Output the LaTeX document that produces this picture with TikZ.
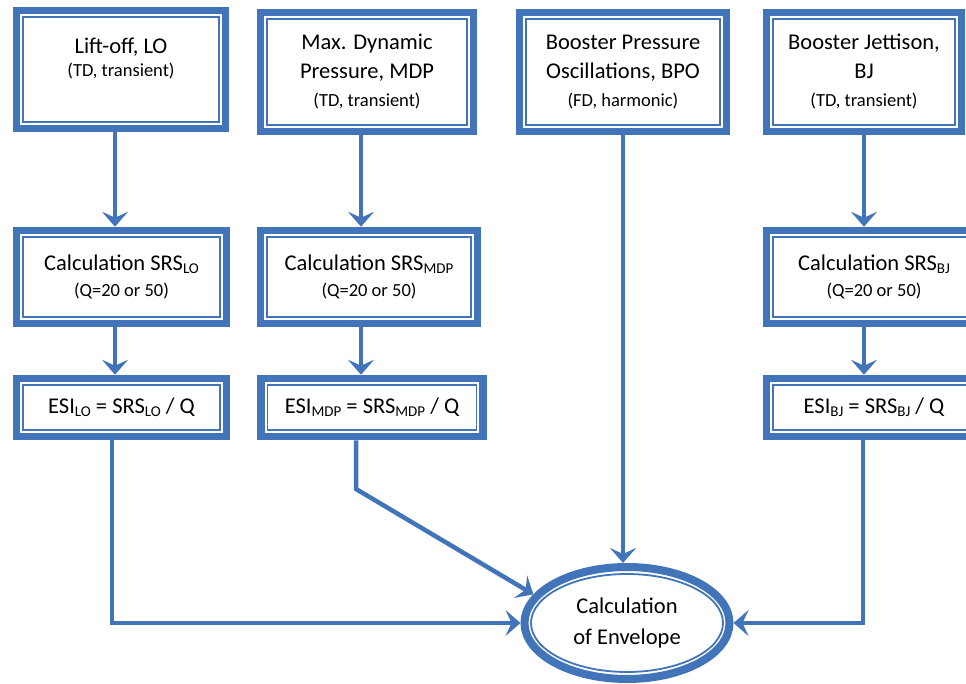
\documentclass[tikz,border=0pt]{standalone}
\usepackage{fontspec}
\usepackage{tikz}
\setmainfont{Carlito}
\usetikzlibrary{arrows.meta}
\usetikzlibrary{shapes.geometric}
\definecolor{flowblue}{RGB}{66,116,186}
\newcommand\desc{\fontsize{18.5}{22}\selectfont}
\newcommand\idx[1]{\raisebox{-0.3ex}{\fontsize{15}{15}\selectfont #1}}
\tikzset{box/.style = {rectangle, draw=flowblue, line width=7.5pt, fill=white,
                       align=center, inner sep=0pt,
                       font=\fontsize{22.5}{29}\selectfont,
                       path picture={\draw [flowblue, line width=1.8pt]
                         ([shift={(6.5pt,-6.5pt)}]path picture bounding box.north west) rectangle
                         ([shift={(-6.5pt,6.5pt)}]path picture bounding box.south east);}},
         envelope/.style = {ellipse, draw=flowblue, line width=8pt, fill=white,
                            align=center, inner sep=0pt,
                            font=\fontsize{22.5}{29}\selectfont,
                            path picture={\draw [flowblue, line width=1.8pt]
                              (path picture bounding box.center) ellipse [x radius=96pt, y radius=49pt];}},
         flow/.style = {draw=flowblue, line width=4.5pt,
                        -{Stealth[length=15pt, width=26pt, inset=6pt]}}}

\begin{document}
\begin{tikzpicture}[x=1pt, y=-1pt]
    \useasboundingbox (0, 0) rectangle (966, 684);

    \node [box, minimum width=209pt, minimum height=118pt] (lo) at (121, 69.5)
        {Lift-off, LO\\[-6pt]{\desc (TD, transient)}\\[-5pt]\mbox{}};
    \node [box, minimum width=213pt, minimum height=119pt] (mdp) at (367, 72)
        {Max. Dynamic\\Pressure, MDP\\[-1pt]{\desc (TD, transient)}};
    \node [box, minimum width=207pt, minimum height=119pt] (bpo) at (623, 72)
        {Booster Pressure\\Oscillations, BPO\\[-1pt]{\desc (FD, harmonic)}};
    \node [box, minimum width=195pt, minimum height=119pt] (bj) at (864, 72)
        {Booster Jettison,\\BJ\\[-1pt]{\desc (TD, transient)}};

    \node [box, minimum width=210pt, minimum height=93pt] (localc) at (121.5, 277)
        {Calculation SRS\idx{LO}\\[-3pt]{\desc (Q=20 or 50)}};
    \node [box, minimum width=217pt, minimum height=93pt] (mdpcalc) at (369, 277)
        {Calculation SRS\idx{MDP}\\[-3pt]{\desc (Q=20 or 50)}};
    \node [box, minimum width=215pt, minimum height=93pt] (bjcalc) at (874, 277)
        {Calculation SRS\idx{BJ}\\[-3pt]{\desc (Q=20 or 50)}};

    \node [box, minimum width=210pt, minimum height=58pt] (loesi) at (121.5, 407.5)
        {ESI\idx{LO} = SRS\idx{LO} / Q};
    \node [box, minimum width=222pt, minimum height=58pt] (mdpesi) at (372, 407.5)
        {ESI\idx{MDP} = SRS\idx{MDP} / Q};
    \node [box, minimum width=215pt, minimum height=58pt] (bjesi) at (874, 407.5)
        {ESI\idx{BJ} = SRS\idx{BJ} / Q};

    \node [envelope, minimum width=205pt, minimum height=112pt] (env) at (627, 623)
        {Calculation\\[2pt]of Envelope};

    \draw [flow] ([xshift=-6pt]lo.south) -- ([xshift=-6pt]lo.south |- localc.north);
    \draw [flow] ([xshift=-6.5pt]localc.south) -- ([xshift=-6.5pt]localc.south |- loesi.north);
    \draw [flow] ([xshift=-6pt]mdp.south) -- ([xshift=-6pt]mdp.south |- mdpcalc.north);
    \draw [flow] ([xshift=-8pt]mdpcalc.south) -- ([xshift=-8pt]mdpcalc.south |- mdpesi.north);
    \draw [flow] (bj.south) -- (bj.south |- bjcalc.north);
    \draw [flow] ([xshift=-10pt]bjcalc.south) -- ([xshift=-10pt]bjcalc.south |- bjesi.north);

    \coordinate (knee) at (356, 489);
    \draw [flow] ([xshift=-9.5pt]loesi.south) |- (env.west);
    \draw [flow] ([xshift=-16pt]mdpesi.south) -- (knee) -- (env.163);
    \draw [flow] (bpo.south) -- (bpo.south |- env.north);
    \draw [flow] ([xshift=-11pt]bjesi.south) |- (env.east);
\end{tikzpicture}
\end{document}
